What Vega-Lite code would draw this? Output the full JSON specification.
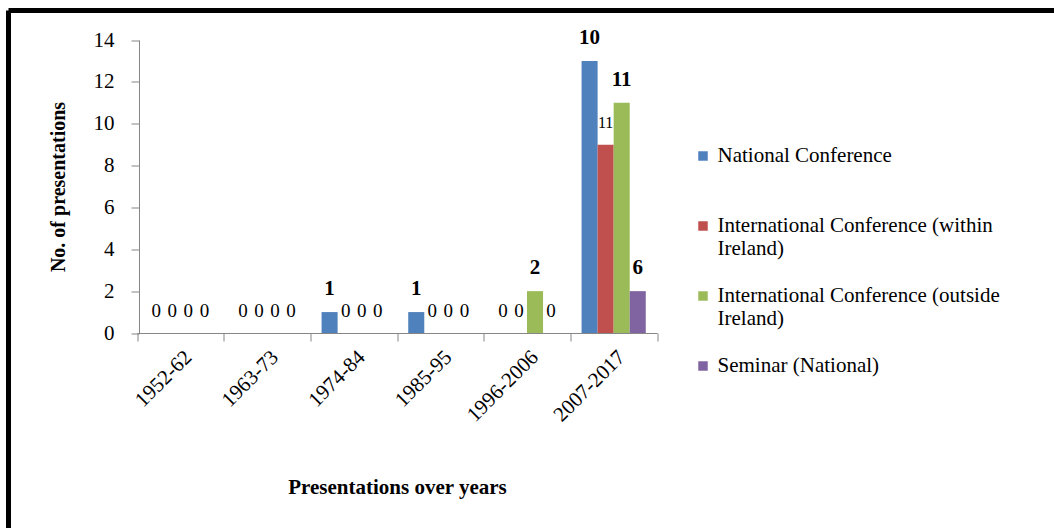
{
  "$schema": "https://vega.github.io/schema/vega-lite/v6.json",
  "width": 1045.5,
  "height": 517.5,
  "autosize": {"type": "none"},
  "padding": {"left": 8.5, "top": 10.5, "right": 0, "bottom": 0},
  "background": "white",
  "config": {
    "font": "Liberation Serif",
    "view": {"stroke": "black", "strokeWidth": 5, "strokeDash": [1045.5, 1563, 517.5, 0]},
    "axis": {
      "labelFont": "Liberation Serif",
      "titleFont": "Liberation Serif",
      "labelColor": "black",
      "titleColor": "black",
      "domainColor": "#868686",
      "tickColor": "#868686",
      "grid": false
    }
  },
  "data": {
    "values": [
      {"period": "1952-62", "type": "National Conference", "count": 0, "label": "0"},
      {"period": "1952-62", "type": "International Conference  (within Ireland)", "count": 0, "label": "0"},
      {"period": "1952-62", "type": "International Conference (outside Ireland)", "count": 0, "label": "0"},
      {"period": "1952-62", "type": "Seminar (National)", "count": 0, "label": "0"},
      {"period": "1963-73", "type": "National Conference", "count": 0, "label": "0"},
      {"period": "1963-73", "type": "International Conference  (within Ireland)", "count": 0, "label": "0"},
      {"period": "1963-73", "type": "International Conference (outside Ireland)", "count": 0, "label": "0"},
      {"period": "1963-73", "type": "Seminar (National)", "count": 0, "label": "0"},
      {"period": "1974-84", "type": "National Conference", "count": 1, "label": "1"},
      {"period": "1974-84", "type": "International Conference  (within Ireland)", "count": 0, "label": "0"},
      {"period": "1974-84", "type": "International Conference (outside Ireland)", "count": 0, "label": "0"},
      {"period": "1974-84", "type": "Seminar (National)", "count": 0, "label": "0"},
      {"period": "1985-95", "type": "National Conference", "count": 1, "label": "1"},
      {"period": "1985-95", "type": "International Conference  (within Ireland)", "count": 0, "label": "0"},
      {"period": "1985-95", "type": "International Conference (outside Ireland)", "count": 0, "label": "0"},
      {"period": "1985-95", "type": "Seminar (National)", "count": 0, "label": "0"},
      {"period": "1996-2006", "type": "National Conference", "count": 0, "label": "0"},
      {"period": "1996-2006", "type": "International Conference  (within Ireland)", "count": 0, "label": "0"},
      {"period": "1996-2006", "type": "International Conference (outside Ireland)", "count": 2, "label": "2"},
      {"period": "1996-2006", "type": "Seminar (National)", "count": 0, "label": "0"},
      {"period": "2007-2017", "type": "National Conference", "count": 13, "label": "10"},
      {"period": "2007-2017", "type": "International Conference  (within Ireland)", "count": 9, "label": "11"},
      {"period": "2007-2017", "type": "International Conference (outside Ireland)", "count": 11, "label": "11"},
      {"period": "2007-2017", "type": "Seminar (National)", "count": 2, "label": "6"}
    ]
  },
  "encoding": {
    "x": {
      "field": "period",
      "type": "nominal",
      "sort": null,
      "scale": {"range": [128.5, 648.5], "paddingInner": 0, "paddingOuter": 0},
      "axis": {
        "title": "Presentations over years",
        "titleFontSize": 21,
        "titleFontWeight": "bold",
        "titlePadding": 51,
        "labelFontSize": 21,
        "labelAngle": -45,
        "labelPadding": 5,
        "tickBand": "extent",
        "tickSize": 8,
        "offset": -195
      }
    },
    "xOffset": {
      "field": "type",
      "type": "nominal",
      "sort": ["National Conference", "International Conference  (within Ireland)", "International Conference (outside Ireland)", "Seminar (National)"],
      "scale": {"paddingInner": 0, "paddingOuter": 0.7}
    },
    "y": {
      "field": "count",
      "type": "quantitative",
      "scale": {"domain": [0, 14], "range": [322.5, 29.5], "nice": false},
      "axis": {
        "title": "No. of presentations",
        "titleFontSize": 20,
        "titleFontWeight": "bold",
        "titlePadding": 25,
        "labelFontSize": 21,
        "labelPadding": 17,
        "tickSize": 8,
        "values": [0, 2, 4, 6, 8, 10, 12, 14],
        "offset": -130.5
      }
    }
  },
  "layer": [
    {
      "mark": {"type": "bar"},
      "encoding": {
        "color": {
          "field": "type",
          "type": "nominal",
          "sort": ["National Conference", "International Conference  (within Ireland)", "International Conference (outside Ireland)", "Seminar (National)"],
          "scale": {"range": ["#4F81BD", "#C0504D", "#9BBB59", "#8064A2"]},
          "legend": {
            "title": null,
            "orient": "none",
            "legendX": 684,
            "legendY": 135,
            "symbolType": "square",
            "symbolSize": 90,
            "symbolStrokeWidth": 0,
            "labelFont": "Liberation Serif",
            "labelFontSize": 21,
            "labelColor": "black",
            "labelLimit": 400,
            "labelOffset": 4,
            "rowPadding": 25,
            "labelBaseline": "middle",
            "labelExpr": "datum.label == 'National Conference' ? ['National Conference', ' '] : datum.label == 'International Conference  (within Ireland)' ? ['International Conference  (within', 'Ireland)'] : datum.label == 'International Conference (outside Ireland)' ? ['International Conference (outside', 'Ireland)'] : ['Seminar (National)', ' ']"
          }
        }
      }
    },
    {
      "transform": [{"filter": "datum.count > 0 && datum.type != 'International Conference  (within Ireland)'"}],
      "mark": {"type": "text", "dy": -23, "fontSize": 21, "fontWeight": "bold", "font": "Liberation Serif", "color": "black"},
      "encoding": {"text": {"field": "label"}}
    },
    {
      "transform": [{"filter": "datum.count == 0 || datum.type == 'International Conference  (within Ireland)'"}],
      "mark": {"type": "text", "dy": -22, "font": "Liberation Serif", "color": "black"},
      "encoding": {
        "text": {"field": "label"},
        "size": {"condition": {"test": "datum.count > 0", "value": 16}, "value": 19}
      }
    }
  ]
}
